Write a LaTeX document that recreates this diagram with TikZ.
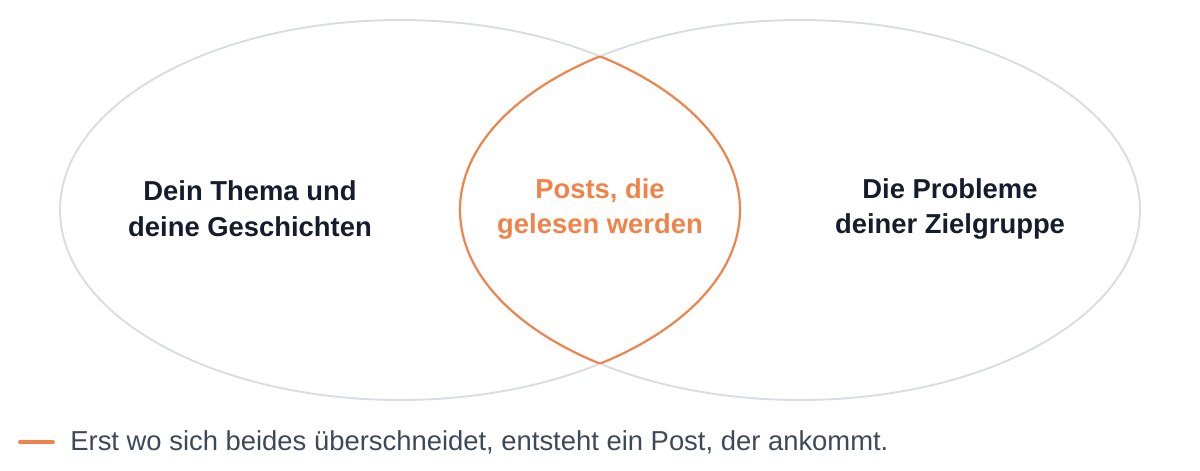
\documentclass[tikz,border=0pt]{standalone}
\usepackage{fontspec}
\setmainfont{Liberation Sans}
\usepackage{tikz}
\usetikzlibrary{positioning}
\definecolor{ringgray}{HTML}{D9DDE3}
\definecolor{lensorange}{HTML}{F0834A}
\definecolor{labelnavy}{HTML}{161C2C}
\definecolor{legendslate}{HTML}{3F4858}
\tikzset{
  ring/.style={draw=ringgray, line width=1.1pt},
  lens/.style={draw=lensorange, line width=1.2pt},
  setlabel/.style={font=\bfseries\fontsize{15.6}{20.4}\selectfont, align=center, text=labelnavy},
}

\begin{document}
\begin{tikzpicture}[x=0.02cm, y=-0.02cm]
\useasboundingbox (0,0) rectangle (1200,470);

% Sets
\draw[ring] (400,210) ellipse (340 and 190);
\draw[ring] (800,210) ellipse (340 and 190);

% Overlap
\begin{scope}
  \clip (400,210) ellipse (340 and 190);
  \draw[lens] (800,210) ellipse (340 and 190);
\end{scope}
\begin{scope}
  \clip (800,210) ellipse (340 and 190);
  \draw[lens] (400,210) ellipse (340 and 190);
\end{scope}

% Labels
\node[setlabel] (topic) at (250,209) {Dein Thema und\\deine Geschichten};
\node[setlabel, text=lensorange] (posts) at (600,209) {Posts, die\\gelesen werden};
\node[setlabel] (problems) at (950,209) {Die Probleme\\deiner Zielgruppe};

% Legend
\node[anchor=west, inner sep=0pt, text=legendslate, font=\fontsize{15.6}{18}\selectfont] (note) at (70,442) {Erst wo sich beides überschneidet, entsteht ein Post, der ankommt.};
\coordinate (mark) at (20,442);
\draw[lensorange, line width=2.2pt, line cap=round] (mark) -- ([xshift=-0.34cm]note.west);
\end{tikzpicture}
\end{document}
